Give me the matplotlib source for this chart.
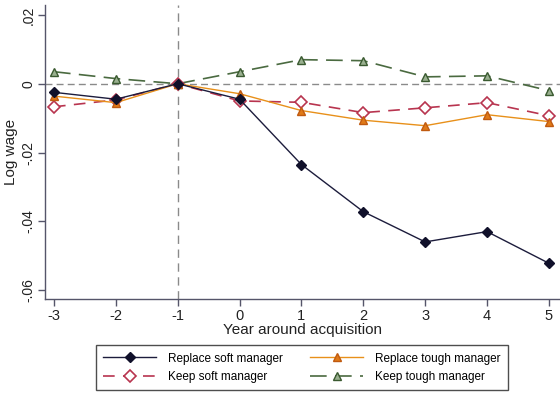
import matplotlib
matplotlib.use("Agg")
import matplotlib.pyplot as plt

plt.rcParams['font.family'] = ['Liberation Sans', 'DejaVu Sans']

years = [-3, -2, -1, 0, 1, 2, 3, 4, 5]
replace_soft = [-0.0025, -0.0045, 0.0, -0.0045, -0.0235, -0.0372, -0.0460, -0.0430, -0.0522]
replace_tough = [-0.0036, -0.0055, 0.0, -0.0029, -0.0078, -0.0106, -0.0122, -0.0090, -0.0110]
keep_soft = [-0.0067, -0.0047, 0.0, -0.0050, -0.0054, -0.0084, -0.0070, -0.0055, -0.0093]
keep_tough = [0.0035, 0.0015, 0.0, 0.0035, 0.0070, 0.0067, 0.0020, 0.0023, -0.0020]

yticks = [0.02, 0.0, -0.02, -0.04, -0.06]
ytick_labels = ['.02', '0', '-.02', '-.04', '-.06']

fig = plt.figure(figsize=(5.6, 3.97), dpi=100)
ax = fig.add_axes([45/560, 1-299/397, 1-45/560, (299-5)/397])

ax.axhline(0, color='#8a8a8a', lw=1.0, ls=(0, (5, 3)), zorder=1)
ax.axvline(-1, color='#8a8a8a', lw=1.0, ls=(0, (6, 4)), zorder=1)

l1, = ax.plot(years, replace_soft, color='#1c1c3c', lw=1.0, marker='D', ms=5.5,
              mfc='#10102a', mec='#10102a', zorder=5, label='Replace soft manager')
l2, = ax.plot(years, replace_tough, color='#e8901a', lw=1.0, marker='^', ms=6,
              mfc='#e07a18', mec='#c05a10', zorder=4, label='Replace tough manager')
l3, = ax.plot(years, keep_soft, color='#b8344f', lw=1.2, ls=(0, (7, 5)), marker='D', ms=6,
              mfc='white', mec='#b8344f', mew=1.2, zorder=3, label='Keep soft manager')
l4, = ax.plot(years, keep_tough, color='#4a6a40', lw=1.2, ls=(0, (10, 5)), marker='^', ms=6,
              mfc='#9ab090', mec='#3a5a30', mew=1.0, zorder=2, label='Keep tough manager')

ax.set_xlim(-3.145, 5.18)
ax.set_ylim(-0.0626, 0.0229)
ax.set_xticks(years)
ax.set_xticklabels([str(y) for y in years])
ax.set_yticks(yticks)
ax.set_yticklabels(ytick_labels, rotation=90, va='center')

for s in ['top', 'right']:
    ax.spines[s].set_visible(False)
for s in ['left', 'bottom']:
    ax.spines[s].set_color('#55556a')
    ax.spines[s].set_linewidth(1.0)
ax.tick_params(axis='both', colors='#55556a', labelcolor='#222222', labelsize=10.5,
               length=5, width=1.0, direction='out')
ax.tick_params(axis='x', pad=2)
ax.tick_params(axis='y', pad=2, labelsize=10)

ax.set_xlabel('Year around acquisition', fontsize=11, color='#222222', labelpad=0)
ax.set_ylabel('Log wage', fontsize=11, color='#222222', labelpad=2)

leg = fig.legend(handles=[l1, l3, l2, l4], ncol=2, loc='lower center',
                 bbox_to_anchor=(302/560, 1/397), fontsize=8.5, frameon=True,
                 fancybox=False, edgecolor='#222222', handlelength=4.5,
                 columnspacing=2.3, borderpad=0.6, labelspacing=0.55,
                 handletextpad=1.0)
leg.get_frame().set_linewidth(1.0)

fig.savefig('out.png', dpi=100)
